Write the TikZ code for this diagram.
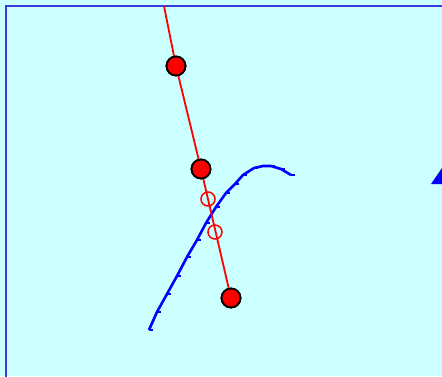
\documentclass[tikz,border=0pt]{standalone}
\begin{document}
\begin{tikzpicture}[x=1pt,y=-1pt,
  dot/.style={circle,draw=black,fill=red,line width=1.8pt,minimum size=19pt,inner sep=0pt},
  ring/.style={circle,draw=red,line width=1.5pt,minimum size=14pt,inner sep=0pt},
  redline/.style={draw=red,line width=1.8pt},
  bluecurve/.style={draw=blue,line width=2.6pt,line join=round},
  tick/.style={draw=blue,line width=2.2pt}]
\definecolor{bg}{RGB}{204,255,255}
\definecolor{frame}{RGB}{60,60,220}
\useasboundingbox (0,0) rectangle (442,376);
\fill[bg] (0,0) rectangle (442,376);
\draw[frame,line width=2pt] (6,380) -- (6,6) -- (446,6);
% blue curve
\draw[bluecurve] (149,330) -- (157,312) -- (167,294) -- (177,276) -- (187,257) -- (197,240) -- (206,223) -- (216,207) -- (226,193) -- (235,184) -- (243,175) -- (254,168) -- (263,166) -- (271,166) -- (281,169) -- (291,175);
\foreach \p in {(149,330),(157,312),(167,294),(177,276),(187,257),(197,240),(206,223),(216,207),(226,193),(235,184),(243,175),(254,168),(263,166),(271,166),(281,169),(291,175)}
  \draw[tick] \p -- ++(3.5,0);
% red line and dots
\coordinate (top) at (164,6);
\node[dot] (d1) at (176,66) {};
\node[dot] (d2) at (201,169) {};
\node[dot] (d3) at (231,298) {};
\draw[redline] (top) -- (d1) -- (d2) -- (d3);
\node[dot] at (176,66) {};
\node[dot] at (201,169) {};
\node[dot] at (231,298) {};
\node[ring] (r1) at (208,199) {};
\node[ring] (r2) at (215,232) {};
% triangle
\fill[blue] (431,184) -- (442,168) -- (442,184) -- cycle;
\end{tikzpicture}
\end{document}
